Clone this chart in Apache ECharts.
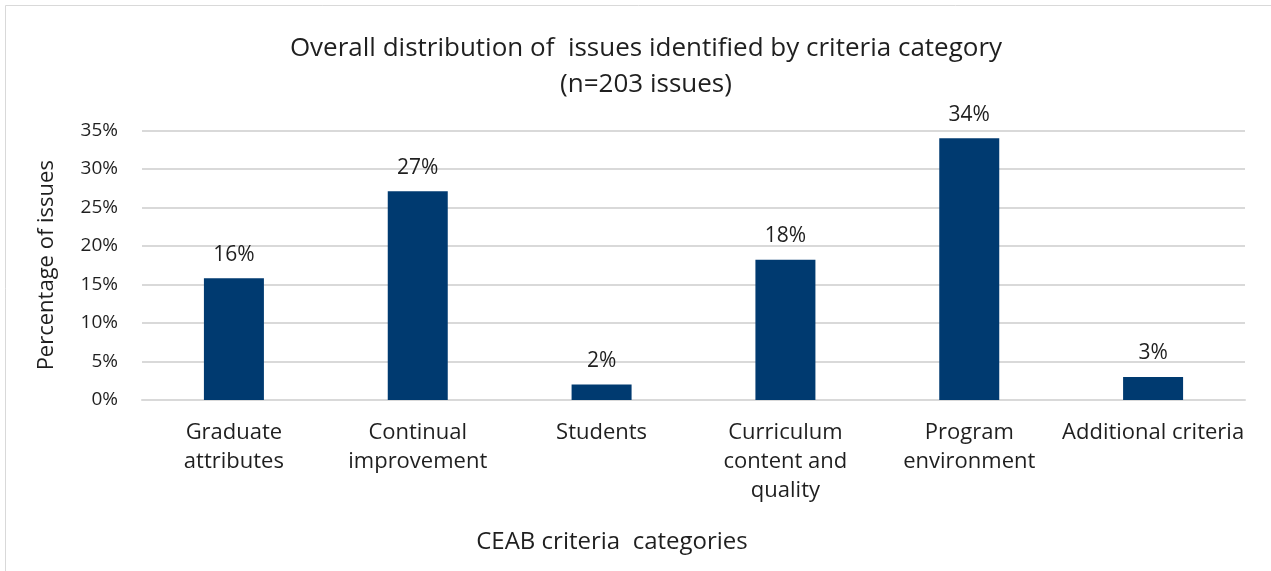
<!DOCTYPE html>
<html>
<head>
<meta charset="utf-8">
<script src="https://cdn.jsdelivr.net/npm/echarts@6/dist/echarts.min.js"></script>
<style>
html,body{margin:0;padding:0;background:#fff;}
#chart{width:1271px;height:571px;}
</style>
</head>
<body>
<div id="chart"></div>
<script>
const categories = ["Graduate\nattributes", "Continual\nimprovement", "Students", "Curriculum\ncontent and\nquality", "Program\nenvironment", "Additional criteria"];
const percentValues = [15.8, 27.1, 2.0, 18.2, 34.0, 3.0];
const yTicks = [0, 5, 10, 15, 20, 25, 30, 35];

const FONT = "'Open Sans', 'Liberation Sans', Arial, sans-serif";
const TXT = '#1f1f1f';
const chart = echarts.init(document.getElementById('chart'));
chart.setOption({
  backgroundColor: '#fff',
  textStyle: {fontFamily: FONT},
  graphic: [{
    type: 'rect', shape: {x: 5.5, y: 5.5, width: 1300, height: 600},
    style: {fill: 'none', stroke: '#d9d9d9', lineWidth: 1}, z: -1
  }],
  title: [{
    text: 'Overall distribution of  issues identified by criteria category\n(n=203 issues)',
    left: 641, top: 26, textAlign: 'center',
    textStyle: {fontFamily: FONT, fontSize: 26, fontWeight: 'normal', color: TXT, lineHeight: 36}
  }, {
    text: 'CEAB criteria  categories',
    left: 607, top: 522, textAlign: 'center',
    textStyle: {fontFamily: FONT, fontSize: 24, fontWeight: 'normal', color: TXT, lineHeight: 30}
  }],
  grid: {left: 142, right: 26, top: 130.5, bottom: 171, containLabel: false},
  xAxis: {
    type: 'category', data: categories,
    axisLine: {show: true, lineStyle: {color: '#d9d9d9', width: 2}},
    axisTick: {show: false},
    axisLabel: {color: TXT, fontSize: 22, fontFamily: FONT, lineHeight: 29, margin: 18, interval: 0}
  },
  yAxis: {
    type: 'value', min: yTicks[0], max: yTicks[yTicks.length - 1], interval: 5,
    name: 'Percentage of issues', nameLocation: 'middle', nameGap: 84, nameRotate: 90,
    nameTextStyle: {color: TXT, fontSize: 22, fontFamily: FONT},
    axisLine: {show: false}, axisTick: {show: false},
    axisLabel: {color: TXT, fontSize: 19, fontFamily: FONT, margin: 24, formatter: '{value}%'},
    splitLine: {lineStyle: {color: '#d9d9d9', width: 2}}
  },
  series: [{
    type: 'bar', data: percentValues, barWidth: 60,
    itemStyle: {color: '#003A70'},
    label: {show: true, position: 'top', distance: 13, color: TXT, fontSize: 21, fontFamily: FONT,
      formatter: p => Math.round(p.value) + '%'}
  }]
});
</script>
</body>
</html>
